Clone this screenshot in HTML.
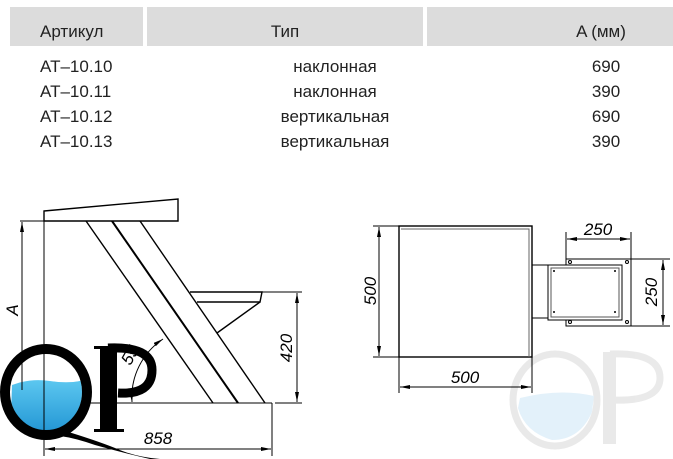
<!DOCTYPE html>
<html><head><meta charset="utf-8"><style>
html,body{margin:0;padding:0;background:#fff;}
body{width:673px;height:459px;overflow:hidden;position:relative;font-family:"Liberation Sans",sans-serif;}
</style></head><body>
<svg width="673" height="459" viewBox="0 0 673 459" xmlns="http://www.w3.org/2000/svg" style="position:absolute;left:0;top:0">
<defs>
<marker id="ar" viewBox="0 0 10 4" refX="10" refY="2" markerWidth="10" markerHeight="4" orient="auto-start-reverse" markerUnits="userSpaceOnUse"><path d="M0,0 L10,2 L0,4 z" fill="#000"/></marker>
<linearGradient id="wt" x1="0" y1="0" x2="0" y2="1"><stop offset="0" stop-color="#5cc7f0"/><stop offset="1" stop-color="#1a8fd0"/></linearGradient>
<clipPath id="qin"><ellipse cx="46" cy="392" rx="36" ry="40"/></clipPath>
</defs>
<!-- table -->
<rect x="10" y="7" width="133" height="39" fill="#dcdcdc"/>
<rect x="147" y="7" width="276" height="39" fill="#dcdcdc"/>
<rect x="427" y="7" width="246" height="39" fill="#dcdcdc"/>
<g font-size="17" fill="#222">
<text x="40" y="37">Артикул</text>
<text x="285" y="37" text-anchor="middle">Тип</text>
<text x="601" y="37" text-anchor="middle">A (мм)</text>
<text x="40" y="72">AT–10.10</text>
<text x="40" y="97">AT–10.11</text>
<text x="40" y="122">AT–10.12</text>
<text x="40" y="147">AT–10.13</text>
<text x="335" y="72" text-anchor="middle">наклонная</text>
<text x="335" y="97" text-anchor="middle">наклонная</text>
<text x="335" y="122" text-anchor="middle">вертикальная</text>
<text x="335" y="147" text-anchor="middle">вертикальная</text>
<text x="606" y="72" text-anchor="middle">690</text>
<text x="606" y="97" text-anchor="middle">390</text>
<text x="606" y="122" text-anchor="middle">690</text>
<text x="606" y="147" text-anchor="middle">390</text>
</g>
<!-- faint watermark right -->
<g opacity="0.12">
<ellipse cx="555" cy="400" rx="42" ry="46" fill="none" stroke="#555" stroke-width="7"/>
<rect x="603" y="352" width="13" height="92" fill="#555"/>
<path d="M610,354 Q660,352 660,378 Q660,402 612,400" fill="none" stroke="#555" stroke-width="7"/>
</g>
<path d="M520,398 Q560,388 594,396 L592,412 Q580,440 552,440 Q525,432 518,408z" fill="#e3f1fa"/>
<!-- left drawing -->
<g stroke="#000" fill="none" stroke-width="1.4">
<polygon points="44,211 178,199 178,221 44,221" fill="#fff"/>
<line x1="44" y1="211" x2="44" y2="456" stroke-width="1"/>
<line x1="20" y1="221" x2="143" y2="221" stroke-width="1"/>
<line x1="86" y1="221" x2="213" y2="403"/>
<line x1="112" y1="221" x2="238" y2="403" stroke-width="2"/>
<line x1="140" y1="221" x2="265" y2="403"/>
<polyline points="190,292 262,292 260,302 197,302"/>
<line x1="260" y1="302" x2="217" y2="333"/>
<line x1="44" y1="403" x2="272" y2="403" stroke-width="1"/>
<line x1="272" y1="403" x2="272" y2="456" stroke-width="1"/>
<line x1="262" y1="292" x2="302" y2="292" stroke-width="1"/>
<line x1="275" y1="403" x2="302" y2="403" stroke-width="1"/>
<line x1="297" y1="293" x2="297" y2="402" stroke-width="1" marker-start="url(#ar)" marker-end="url(#ar)"/>
<line x1="22" y1="222" x2="22" y2="402" stroke-width="1" marker-start="url(#ar)"/>
<line x1="45" y1="449" x2="271" y2="449" stroke-width="1" marker-start="url(#ar)" marker-end="url(#ar)"/>
<path d="M132,402 A70,70 0 0 1 163,339" stroke-width="1" marker-start="url(#ar)" marker-end="url(#ar)"/>
</g>
<g font-size="17" font-style="italic" fill="#000">
<text transform="translate(292,348) rotate(-90)" text-anchor="middle">420</text>
<text transform="translate(18,310) rotate(-90)" text-anchor="middle">A</text>
<text transform="translate(135,358) rotate(-60)" text-anchor="middle">55</text>
<text x="158" y="444" text-anchor="middle">858</text>
</g>
<!-- QP logo -->
<g>
<path d="M12,385 Q30,378 50,381 Q70,384 84,380 L84,440 L10,440z" fill="url(#wt)" clip-path="url(#qin)"/>
<ellipse cx="46" cy="392" rx="41" ry="43" fill="none" stroke="#000" stroke-width="10"/>
<path d="M62,430 Q95,440 115,448 Q135,457 160,459 L150,459 Q120,452 95,445 Q75,438 60,436z" fill="#000"/>
<rect x="100" y="346" width="17" height="86" fill="#000"/>
<rect x="94" y="346" width="12" height="3" fill="#000"/>
<rect x="94" y="429" width="30" height="3" fill="#000"/>
<path d="M108,348 Q152,346 152,370 Q152,395 118,393" fill="none" stroke="#000" stroke-width="9"/>
</g>
<line x1="44" y1="330" x2="44" y2="456" stroke="#000" stroke-width="1"/>
<line x1="22" y1="330" x2="22" y2="390" stroke="#000" stroke-width="1"/>
<!-- right drawing -->
<g stroke="#000" fill="none" stroke-width="1">
<rect x="399" y="226" width="133" height="131" stroke-width="1.4"/>
<polyline points="401,229 529,229 529,357" stroke="#666"/>
<line x1="373" y1="226" x2="399" y2="226"/>
<line x1="373" y1="357" x2="399" y2="357"/>
<line x1="379" y1="227" x2="379" y2="356" marker-start="url(#ar)" marker-end="url(#ar)"/>
<line x1="399" y1="357" x2="399" y2="393"/>
<line x1="532" y1="357" x2="532" y2="393"/>
<line x1="400" y1="387" x2="531" y2="387" marker-start="url(#ar)" marker-end="url(#ar)"/>
<rect x="532" y="265" width="16" height="53"/>
<rect x="566" y="259" width="65" height="67"/>
<rect x="548" y="265" width="74" height="55" fill="#fff"/>
<rect x="551" y="268" width="68" height="49" stroke="#555"/>
<circle cx="570" cy="262" r="1.5"/><circle cx="627" cy="262" r="1.5"/>
<circle cx="570" cy="322" r="1.5"/><circle cx="627" cy="322" r="1.5"/>
<line x1="566" y1="232" x2="566" y2="259"/>
<line x1="631" y1="232" x2="631" y2="259"/>
<line x1="567" y1="239" x2="630" y2="239" marker-start="url(#ar)" marker-end="url(#ar)"/>
<line x1="631" y1="259" x2="670" y2="259"/>
<line x1="631" y1="326" x2="670" y2="326"/>
<line x1="663" y1="260" x2="663" y2="325" marker-start="url(#ar)" marker-end="url(#ar)"/>
</g>
<g fill="#000" stroke="none"><circle cx="554" cy="271" r="1"/><circle cx="615" cy="271" r="1"/><circle cx="554" cy="312" r="1"/><circle cx="615" cy="312" r="1"/></g>
<g font-size="17" font-style="italic" fill="#000">
<text transform="translate(376,291) rotate(-90)" text-anchor="middle">500</text>
<text x="465" y="383" text-anchor="middle">500</text>
<text x="598" y="235" text-anchor="middle">250</text>
<text transform="translate(657,292) rotate(-90)" text-anchor="middle">250</text>
</g>
</svg>
</body></html>
